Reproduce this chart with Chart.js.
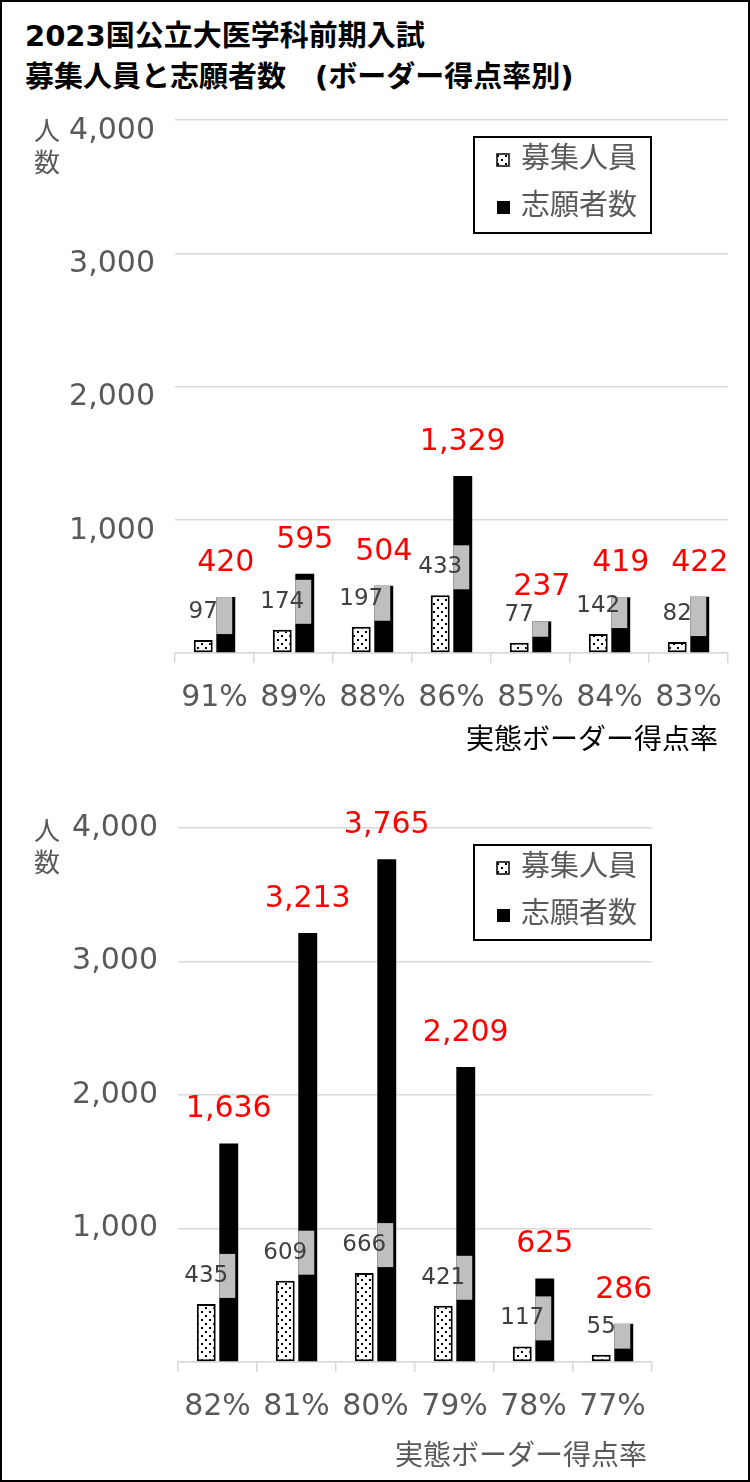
<!DOCTYPE html>
<html>
<head>
<meta charset="utf-8">
<script src="https://cdn.jsdelivr.net/npm/chart.js@4.4.1/dist/chart.umd.min.js"></script>
<style>
  body { margin: 0; background: #fff; }
  #frame { position: absolute; left: 0; top: 0; width: 750px; height: 1482px; box-sizing: border-box; border: 2px solid #000; pointer-events: none; z-index: 5; }
  #title { position: absolute; left: 25px; top: 16px; font: bold 29px "DejaVu Sans", "Noto Sans CJK JP"; line-height: 41px; color: #000; white-space: nowrap; }
  canvas { position: absolute; left: 0; }
  #chartTop { top: 82px; }
  #chartBottom { top: 790px; }
</style>
</head>
<body>
<div id="frame"></div>
<div id="title">2023国公立大医学科前期入試<br>募集人員と志願者数　(ボーダー得点率別)</div>
<canvas id="chartTop" width="750" height="698"></canvas>
<canvas id="chartBottom" width="750" height="690"></canvas>
<script>
// データ (上段)
const topCategories = ['91%', '89%', '88%', '86%', '85%', '84%', '83%'];
const topRecruit = [97, 174, 197, 433, 77, 142, 82];
const topApplicants = [420, 595, 504, 1329, 237, 419, 422];

// データ (下段)
const bottomCategories = ['82%', '81%', '80%', '79%', '78%', '77%'];
const bottomRecruit = [435, 609, 666, 421, 117, 55];
const bottomApplicants = [1636, 3213, 3765, 2209, 625, 286];

// 縦軸の目盛り
const yTickValues = [0, 1000, 2000, 3000, 4000];
const yTickLabels = ['', '1,000', '2,000', '3,000', '4,000'];

const seriesNames = ['募集人員', '志願者数'];
const xTitle = '実態ボーダー得点率';
const yTitle = ['人', '数'];

const FONT = "'DejaVu Sans', 'Noto Sans CJK JP'";
const GRAY = '#595959';

// 点々模様のパターン
function makeDotPattern() {
    const tile = document.createElement('canvas');
    tile.width = 8;
    tile.height = 8;
    const t = tile.getContext('2d');
    t.fillStyle = '#fff';
    t.fillRect(0, 0, 8, 8);
    t.fillStyle = '#000';
    t.fillRect(1, 1, 2, 2);
    t.fillRect(5, 5, 2, 2);
    return t.createPattern(tile, 'repeat');
}

// データラベル・凡例・軸タイトル
const decorPlugin = {
    id: 'decor',
    afterDatasetsDraw(chart, args, opt) {
        const ctx = chart.ctx;
        const m0 = chart.getDatasetMeta(0).data;
        const m1 = chart.getDatasetMeta(1).data;
        ctx.save();
        ctx.textAlign = 'center';
        ctx.textBaseline = 'middle';
        m0.forEach((b0, i) => {
            const p0 = b0.getProps(['x', 'y'], true);
            const p1 = m1[i].getProps(['x', 'y', 'base', 'width'], true);
            const cx = p0.x, cy = p0.y - 28;
            // ラベルの灰色の枠は黒い棒の上だけに見える
            const bx0 = Math.max(cx - 29, p1.x - p1.width / 2);
            const bx1 = Math.min(cx + 29, p1.x + p1.width / 2);
            const by0 = Math.max(cy - 22, p1.y);
            const by1 = Math.min(cy + 22, p1.base);
            if (bx1 > bx0 && by1 > by0) {
                ctx.fillStyle = '#bfbfbf';
                ctx.fillRect(bx0, by0, bx1 - bx0, by1 - by0);
            }
            ctx.fillStyle = '#404040';
            ctx.font = '23px ' + FONT;
            ctx.fillText(String(chart.data.datasets[0].data[i]), cx, cy);
            ctx.fillStyle = '#ff0000';
            ctx.font = '30px ' + FONT;
            ctx.fillText(chart.data.datasets[1].data[i].toLocaleString('en-US'), p1.x, p1.y - 34);
        });
        ctx.restore();
    },
    afterDraw(chart, args, opt) {
        const ctx = chart.ctx;
        ctx.save();
        // 凡例
        const L = opt.legend;
        ctx.fillStyle = '#fff';
        ctx.fillRect(L.x, L.y, L.w, L.h);
        ctx.strokeStyle = '#000';
        ctx.lineWidth = 2;
        ctx.strokeRect(L.x, L.y, L.w, L.h);
        const rows = [L.y + 23, L.y + 70];
        ctx.fillStyle = chart.data.datasets[0].backgroundColor;
        ctx.fillRect(L.x + 23, rows[0] - 6, 12, 12);
        ctx.lineWidth = 1.5;
        ctx.strokeRect(L.x + 23, rows[0] - 6, 12, 12);
        ctx.fillStyle = '#000';
        ctx.fillRect(L.x + 23, rows[1] - 6, 13, 13);
        ctx.font = '29px ' + FONT;
        ctx.fillStyle = GRAY;
        ctx.textAlign = 'left';
        ctx.textBaseline = 'middle';
        ctx.fillText(seriesNames[0], L.x + 47, rows[0]);
        ctx.fillText(seriesNames[1], L.x + 47, rows[1]);
        // 縦軸タイトル
        ctx.font = '26px ' + FONT;
        ctx.textAlign = 'center';
        ctx.fillText(yTitle[0], 47, opt.yTitleY);
        ctx.fillText(yTitle[1], 47, opt.yTitleY + 32);
        // 横軸タイトル
        ctx.font = '28px ' + FONT;
        ctx.fillStyle = opt.xTitleColor;
        ctx.textAlign = 'right';
        ctx.fillText(xTitle, opt.xTitleX, opt.xTitleY);
        ctx.restore();
    }
};

function makeChart(id, cats, recruit, applicants, o) {
    const ctx = document.getElementById(id).getContext('2d');
    return new Chart(ctx, {
        type: 'bar',
        data: {
            labels: cats,
            datasets: [{
                label: seriesNames[0],
                data: recruit,
                backgroundColor: makeDotPattern(),
                borderColor: '#000',
                borderWidth: 2,
                borderSkipped: false,
                categoryPercentage: 0.57,
                barPercentage: 0.84
            }, {
                label: seriesNames[1],
                data: applicants,
                backgroundColor: '#000',
                borderWidth: 0,
                categoryPercentage: 0.57,
                barPercentage: 0.84
            }]
        },
        options: {
            responsive: false,
            animation: false,
            devicePixelRatio: 1,
            layout: { padding: { top: o.padTop, right: o.padRight, left: 0, bottom: 0 } },
            plugins: {
                legend: { display: false },
                tooltip: { enabled: false },
                decor: o.decor
            },
            scales: {
                x: {
                    grid: { drawOnChartArea: false, drawTicks: true, tickLength: 10, color: '#d9d9d9', lineWidth: 1.5 },
                    border: { color: '#d9d9d9', width: 1.5 },
                    ticks: { color: GRAY, font: { family: FONT, size: 30 }, padding: 17, maxRotation: 0, autoSkip: false },
                    afterFit: s => { s.height = o.xHeight; }
                },
                y: {
                    min: 0,
                    max: 4000,
                    afterBuildTicks: s => { s.ticks = yTickValues.map(v => ({ value: v })); },
                    ticks: {
                        callback: (v, i) => yTickLabels[i],
                        color: GRAY,
                        font: { family: FONT, size: 30 },
                        padding: 20,
                        labelOffset: o.labelOffset
                    },
                    grid: { color: '#d9d9d9', lineWidth: 1.5, drawTicks: false },
                    border: { display: false },
                    afterFit: s => { s.width = o.yWidth; }
                }
            }
        },
        plugins: [decorPlugin]
    });
}

makeChart('chartTop', topCategories, topRecruit, topApplicants, {
    padTop: 37, padRight: 22, xHeight: 127, yWidth: 175, labelOffset: 11,
    decor: {
        legend: { x: 474, y: 55, w: 177, h: 96 },
        yTitleY: 51, xTitleX: 718, xTitleY: 660, xTitleColor: '#000'
    }
});

makeChart('chartBottom', bottomCategories, bottomRecruit, bottomApplicants, {
    padTop: 38, padRight: 98, xHeight: 118, yWidth: 178, labelOffset: 0,
    decor: {
        legend: { x: 474, y: 55, w: 177, h: 95 },
        yTitleY: 43, xTitleX: 647, xTitleY: 668, xTitleColor: GRAY
    }
});
</script>
</body>
</html>
